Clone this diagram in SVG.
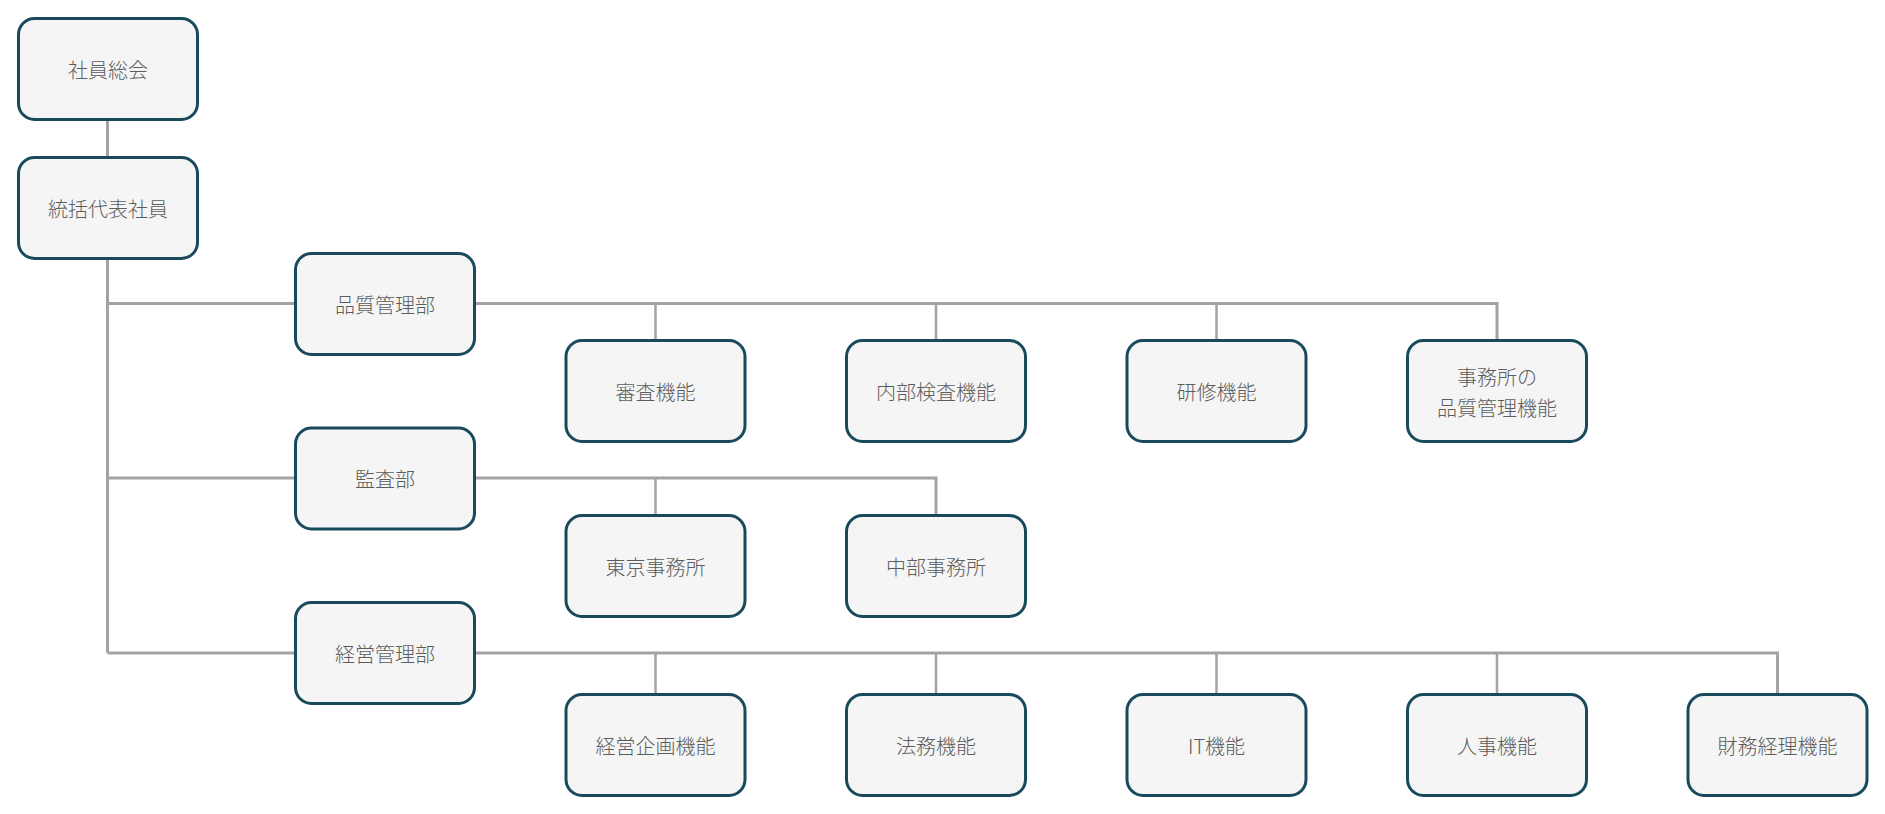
<svg xmlns="http://www.w3.org/2000/svg" width="1885" height="814" viewBox="0 0 1885 814">
<style>
.box{fill:#f5f5f5;stroke:#184a5c;stroke-width:3}
.t{font-family:"Noto Sans CJK JP","Noto Sans",sans-serif;font-size:20px;font-weight:300;fill:#5c5c5c;text-anchor:middle;dominant-baseline:central}
.c{fill:none;stroke:#a3a3a3;stroke-width:3}
.d{fill:none;stroke:#a3a3a3;stroke-width:2.5}
</style>
<rect width="1885" height="814" fill="#fff"/>
<g id="connectors">
<path class="c" d="M107.5 120 V157.5"/>
<path class="c" d="M107.5 259 V653 M107.5 303.5 H295.5 M107.5 478 H295.5 M107.5 653 H295.5"/>
<path class="c" d="M474.5 303.5 H1497 V340.5"/>
<path class="d" d="M655.5 303.5 V340.5 M936 303.5 V340.5 M1216.5 303.5 V340.5"/>
<path class="c" d="M474.5 478 H936 V515.5"/>
<path class="d" d="M655.5 478 V515.5"/>
<path class="c" d="M474.5 653 H1777.5 V694.5"/>
<path class="d" d="M655.5 653 V694.5 M936 653 V694.5 M1216.5 653 V694.5 M1497 653 V694.5"/>
</g>
<g id="n1"><rect class="box" x="18.5" y="18.5" width="179" height="101" rx="16"/><text class="t" x="108" y="69">社員総会</text></g>
<g id="n2"><rect class="box" x="18.5" y="157.5" width="179" height="101" rx="16"/><text class="t" x="108" y="208">統括代表社員</text></g>
<g id="n3"><rect class="box" x="295.5" y="253.5" width="179" height="101" rx="16"/><text class="t" x="385" y="304">品質管理部</text></g>
<g id="n4"><rect class="box" x="295.5" y="428" width="179" height="101" rx="16"/><text class="t" x="385" y="478.5">監査部</text></g>
<g id="n5"><rect class="box" x="295.5" y="602.5" width="179" height="101" rx="16"/><text class="t" x="385" y="653">経営管理部</text></g>
<g id="n6"><rect class="box" x="566" y="340.5" width="179" height="101" rx="16"/><text class="t" x="655.5" y="391">審査機能</text></g>
<g id="n7"><rect class="box" x="846.5" y="340.5" width="179" height="101" rx="16"/><text class="t" x="936" y="391">内部検査機能</text></g>
<g id="n8"><rect class="box" x="1127" y="340.5" width="179" height="101" rx="16"/><text class="t" x="1216.5" y="391">研修機能</text></g>
<g id="n9"><rect class="box" x="1407.5" y="340.5" width="179" height="101" rx="16"/><text class="t" x="1497" y="376">事務所の</text><text class="t" x="1497" y="407">品質管理機能</text></g>
<g id="n10"><rect class="box" x="566" y="515.5" width="179" height="101" rx="16"/><text class="t" x="655.5" y="566">東京事務所</text></g>
<g id="n11"><rect class="box" x="846.5" y="515.5" width="179" height="101" rx="16"/><text class="t" x="936" y="566">中部事務所</text></g>
<g id="n12"><rect class="box" x="566" y="694.5" width="179" height="101" rx="16"/><text class="t" x="655.5" y="745">経営企画機能</text></g>
<g id="n13"><rect class="box" x="846.5" y="694.5" width="179" height="101" rx="16"/><text class="t" x="936" y="745">法務機能</text></g>
<g id="n14"><rect class="box" x="1127" y="694.5" width="179" height="101" rx="16"/><text class="t" x="1216.5" y="745">IT機能</text></g>
<g id="n15"><rect class="box" x="1407.5" y="694.5" width="179" height="101" rx="16"/><text class="t" x="1497" y="745">人事機能</text></g>
<g id="n16"><rect class="box" x="1688" y="694.5" width="179" height="101" rx="16"/><text class="t" x="1777.5" y="745">財務経理機能</text></g>
</svg>
